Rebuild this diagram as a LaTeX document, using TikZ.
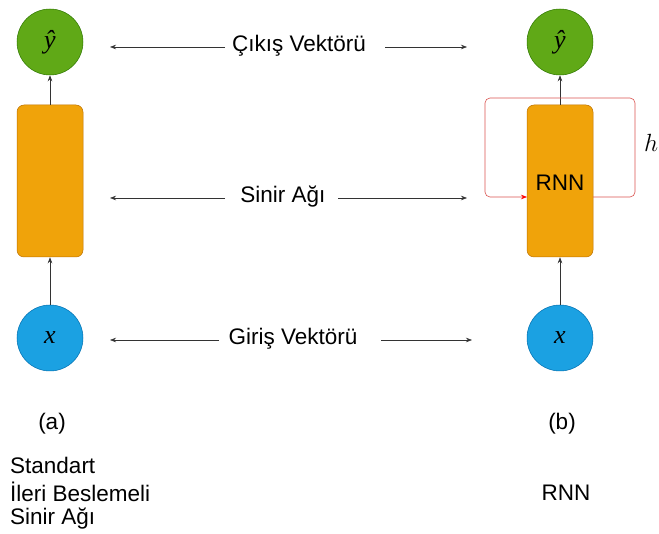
\documentclass[tikz,border=0pt]{standalone}
\usepackage{fontspec}
\setmainfont{Liberation Sans}
\newfontfamily\serifit{Liberation Serif}[ItalicFont=*-Italic]
\usetikzlibrary{arrows.meta}
\definecolor{gfill}{HTML}{60A917}
\definecolor{gdraw}{HTML}{2D7600}
\definecolor{ofill}{HTML}{F0A30A}
\definecolor{odraw}{HTML}{BD7000}
\definecolor{bfill}{HTML}{1BA1E2}
\definecolor{bdraw}{HTML}{006EAF}
\definecolor{loopred}{HTML}{D9534F}
\definecolor{tipred}{HTML}{FF0000}
\tikzset{
  outnode/.style={circle, draw=gdraw, fill=gfill, line width=0.5pt, minimum size=66pt, inner sep=0pt, font=\serifit\itshape\fontsize{26}{30}\selectfont},
  innode/.style={circle, draw=bdraw, fill=bfill, line width=0.5pt, minimum size=66pt, inner sep=0pt, font=\serifit\itshape\fontsize{26}{30}\selectfont},
  netbox/.style={rectangle, rounded corners=7pt, draw=odraw, fill=ofill, line width=0.5pt, minimum width=66pt, minimum height=152pt, inner sep=0pt},
  lab/.style={font=\fontsize{22.5}{26}\selectfont, inner sep=0pt},
  arr/.style={-{Stealth[length=6pt,width=4.5pt]}, line width=0.6pt, draw=black!80},
  looparr/.style={-{Stealth[length=6pt,width=4.5pt,color=tipred]}, line width=0.6pt, draw=loopred, rounded corners=5pt},
  mathlab/.style={font=\fontsize{27}{30}\selectfont, inner sep=0pt}
}
\begin{document}
\begin{tikzpicture}[x=1pt,y=-1pt]
\useasboundingbox (0,0) rectangle (659,534);
% left column
\node[outnode] (ya) at (50,42) {ŷ};
\node[netbox] (na) at (50,181) {};
\node[innode] (xa) at (50,338) {x};
\draw[arr] (na.north) -- (ya.south);
\draw[arr] (xa.north) -- (na.south);
% right column
\node[outnode] (yb) at (560,42) {ŷ};
\node[netbox] (nb) at (560,181) {};
\node[lab] (rnnin) at (560,183) {RNN};
\node[innode] (xb) at (560,338) {x};
\draw[arr] (nb.north) -- (yb.south);
\draw[arr] (xb.north) -- (nb.south);
% recurrent loop
\coordinate (lo) at (593,197);
\coordinate (li) at (527,197);
\draw[looparr] (lo) -- (635,197) -- (635,98) -- (485,98) -- (485,197) -- (li);
\node[mathlab, anchor=west] (h) at (644,143) {$h$};
% middle labels
\node[lab] (l1) at (299,46) {Çıkış Vektörü};
\coordinate (l1a) at (225,47);
\coordinate (l1b) at (110,47);
\coordinate (l1c) at (385,47);
\coordinate (l1d) at (467,47);
\draw[arr] (l1a) -- (l1b);
\draw[arr] (l1c) -- (l1d);
\node[lab] (l2) at (283,197) {Sinir Ağı};
\coordinate (l2a) at (225,198);
\coordinate (l2b) at (110,198);
\coordinate (l2c) at (338,198);
\coordinate (l2d) at (467,198);
\draw[arr] (l2a) -- (l2b);
\draw[arr] (l2c) -- (l2d);
\node[lab] (l3) at (293,339) {Giriş Vektörü};
\coordinate (l3a) at (219,340);
\coordinate (l3b) at (110,340);
\coordinate (l3c) at (381,340);
\coordinate (l3d) at (472,340);
\draw[arr] (l3a) -- (l3b);
\draw[arr] (l3c) -- (l3d);
% captions
\node[lab] (ca) at (52,424) {(a)};
\node[lab] (cb) at (562,424) {(b)};
\node[lab, anchor=west] (t1) at (10,465) {Standart};
\node[lab, anchor=west] (t2) at (10,492) {İleri Beslemeli};
\node[lab, anchor=west] (t3) at (10,519) {Sinir Ağı};
\node[lab] (t4) at (566,493) {RNN};
\end{tikzpicture}
\end{document}
